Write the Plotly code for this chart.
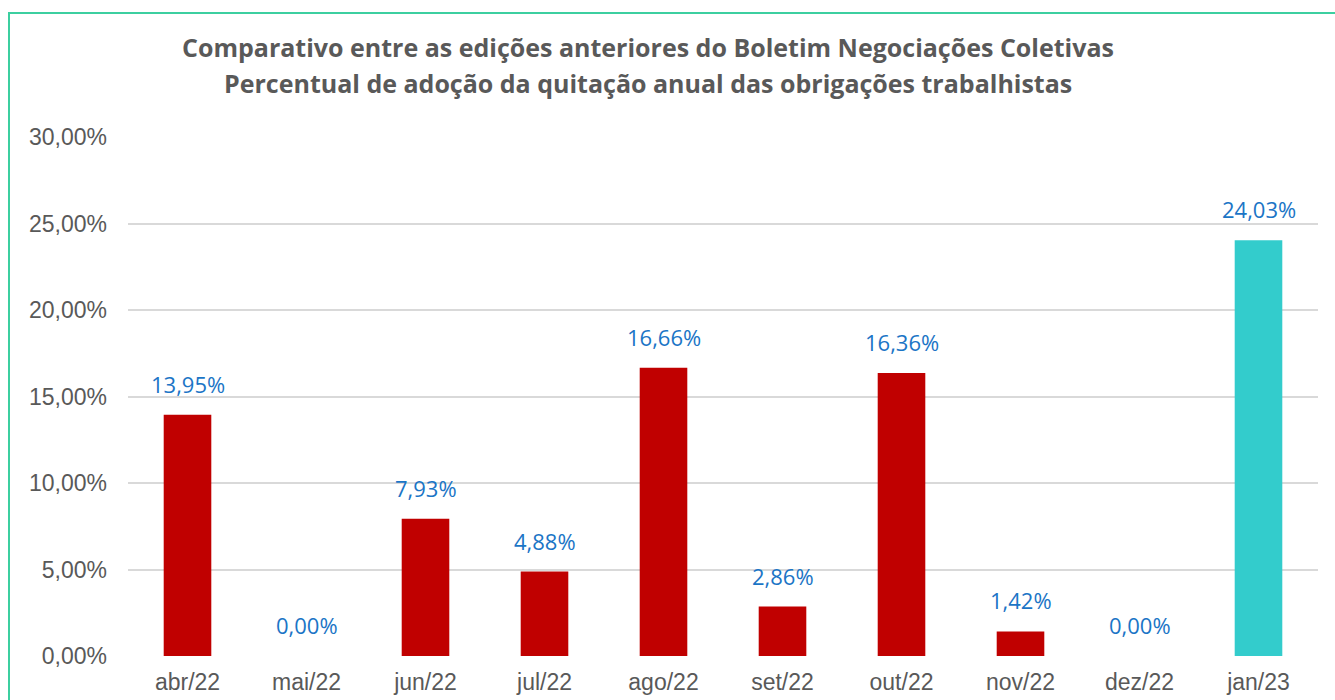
import plotly.graph_objects as go

categories = ["abr/22", "mai/22", "jun/22", "jul/22", "ago/22", "set/22", "out/22", "nov/22", "dez/22", "jan/23"]
values = [13.95, 0.00, 7.93, 4.88, 16.66, 2.86, 16.36, 1.42, 0.00, 24.03]
colors = ["#C00000"] * 9 + ["#33CCCC"]
tick_vals = [0, 5, 10, 15, 20, 25, 30]
tick_text = ["0,00%", "5,00%", "10,00%", "15,00%", "20,00%", "25,00%", "30,00%"]
title_lines = ["Comparativo entre as edições anteriores do Boletim Negociações Coletivas",
               "Percentual de adoção da quitação anual das obrigações trabalhistas"]

def fmt(v):
    return f"{v:.2f}".replace(".", ",") + "%"

fig = go.Figure()
fig.add_trace(go.Bar(x=categories, y=values, marker=dict(color=colors, line=dict(width=0)),
                     hoverinfo="skip"))

W, H = 1335, 700
L, R, T, B = 128, W - 1318, 137, H - 656
pw, ph = W - L - R, H - T - B

annotations = []
for c, v in zip(categories, values):
    annotations.append(dict(x=c, y=v, xref="x", yref="y", text=fmt(v), showarrow=False,
                            yanchor="middle", yshift=31,
                            font=dict(family="Open Sans", size=22, color="#1B75C6")))
for line, py in zip(title_lines, [47, 83]):
    annotations.append(dict(x=(648 - L) / pw, y=(H - B - py) / ph, xref="paper", yref="paper",
                            text=f"<b>{line}</b>", showarrow=False, xanchor="center", yanchor="middle",
                            font=dict(family="Open Sans", size=25, color="#595959")))

fig.update_layout(
    width=W, height=H,
    margin=dict(l=L, r=R, t=T, b=B, autoexpand=False),
    paper_bgcolor="white", plot_bgcolor="white",
    showlegend=False,
    bargap=0.6,
    annotations=annotations,
    xaxis=dict(showgrid=False, showline=False, ticks="", zeroline=False, ticklabelstandoff=10,
               automargin=False,
               tickfont=dict(family="Liberation Sans", size=23, color="#595959")),
    yaxis=dict(range=[0, 30], tickvals=tick_vals, ticktext=tick_text,
               showgrid=True, gridcolor="#D9D9D9", gridwidth=1.5, zeroline=False,
               showline=False, ticks="", ticklabelstandoff=20, automargin=False,
               tickfont=dict(family="Liberation Sans", size=23, color="#595959")),
    shapes=[dict(type="rect", xref="paper", yref="paper",
                 x0=(9 - L) / pw, x1=(W + 20 - L) / pw,
                 y0=(H - B - 13) / ph, y1=(H - B - (H + 20)) / ph,
                 line=dict(color="#3CCFA0", width=2), fillcolor="rgba(0,0,0,0)", layer="below")],
)
fig.write_html("out.html", config={"displayModeBar": False},
               post_script="document.body.style.margin='0';document.body.style.overflow='hidden';")
